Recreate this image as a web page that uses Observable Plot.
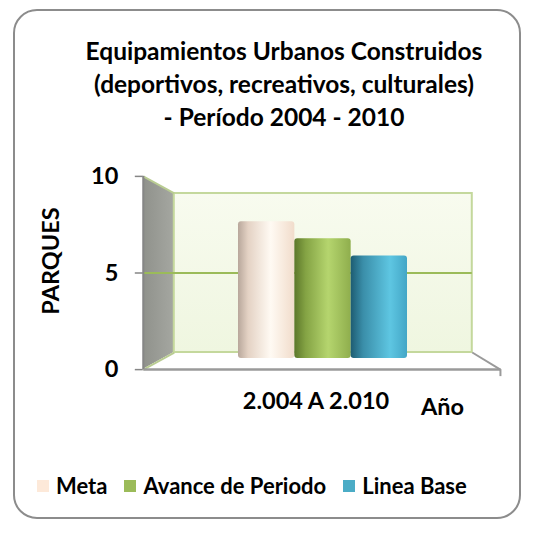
<!DOCTYPE html>
<html>
<head>
<meta charset="utf-8">
<script src="https://cdn.jsdelivr.net/npm/d3@7"></script>
<script src="https://cdn.jsdelivr.net/npm/@observablehq/plot@0.6"></script>
<style>
  body { margin: 0; background: #fff; }
  #wrap { position: relative; width: 534px; height: 533px; background: #fff; font-family: Lato, "Open Sans", sans-serif; overflow: hidden; }
  #frame { position: absolute; left: 13px; top: 9px; width: 508px; height: 510px; box-sizing: border-box; border: 2px solid #8c8c8c; border-radius: 24px; }
  #title { position: absolute; left: 34px; width: 500px; top: 34px; text-align: center; font-weight: bold; font-size: 24.5px; line-height: 33px; color: #000; }
  #chart { position: absolute; left: 0; top: 0; }
  #legend { position: absolute; left: 37px; top: 472px; display: flex; align-items: center; font-weight: bold; font-size: 22px; color: #000; }
  .item { display: flex; align-items: center; margin-right: 17px; }
  .sw { width: 12px; height: 12px; margin-right: 7px; }
</style>
</head>
<body>
<div id="wrap">
  <div id="frame"></div>
  <div id="title"></div>
  <div id="chart"></div>
  <div id="legend"></div>
</div>
<script>
// ---- data ----
const titleLines = ["Equipamientos Urbanos Construidos", "(deportivos, recreativos, culturales)", "- Período 2004 - 2010"];
const series = ["Meta", "Avance de Periodo", "Linea Base"];
const values = [8, 7, 6];
const categories = ["2.004 A 2.010"];
const yTicks = [0, 5, 10];
const yTitle = "PARQUES";
const xTitle = "Año";
const legendColors = ["#fde9d9", "#9bbb59", "#4bacc6"];
const cylinderStops = [
  [["0", "#b8a79b"], ["0.18", "#e4d2c4"], ["0.58", "#fffaf3"], ["1", "#f1dccb"]],
  [["0", "#5c772a"], ["0.2", "#84a344"], ["0.6", "#b5d56e"], ["1", "#8fae4d"]],
  [["0", "#1d5c72"], ["0.22", "#3a8ea9"], ["0.7", "#5ec6e2"], ["1", "#43a6c6"]]
];

// ---- 3D frame layout (perspective of the front and back planes) ----
const DEPTH = {
  front: { k: 1.13, x: [-1.69, 4.65] },
  back: { k: 0.93, x: [-1.14, 4.15] }
};
const vc = (yTicks[0] + yTicks[yTicks.length - 1]) / 2;
const py = (v, d) => vc + (v - vc) * DEPTH[d].k;
const [fl, fr] = DEPTH.front.x;
const [bl, br] = DEPTH.back.x;
const y0 = yTicks[0], yN = yTicks[yTicks.length - 1];

// title
document.getElementById("title").innerHTML = titleLines.map(t => `<div>${t}</div>`).join("");
// legend
document.getElementById("legend").innerHTML = series.map((s, i) =>
  `<div class="item"><div class="sw" style="background:${legendColors[i]}"></div><span>${s}</span></div>`).join("");

const bars = series.map((s, i) => ({ s, i, v: values[i] }));
const font = { fontFamily: "Lato, 'Open Sans', sans-serif", fontWeight: "bold", fill: "#000" };

const svg = Plot.plot({
  width: 534,
  height: 533,
  marginLeft: 238,
  marginRight: 127,
  marginTop: 187,
  marginBottom: 175,
  style: { background: "transparent", overflow: "visible" },
  x: { domain: [0, series.length], axis: null },
  y: { domain: [y0, yN], axis: null },
  color: { domain: series, range: series.map((s, i) => `url(#cyl${i})`) },
  marks: [
    // left side wall
    Plot.areaY([
      { x: fl, y1: py(y0, "front"), y2: py(yN, "front") },
      { x: bl, y1: py(y0, "back"), y2: py(yN, "back") }
    ], { x: "x", y1: "y1", y2: "y2", fill: "url(#wallGray)" }),
    // floor
    Plot.areaX([
      { y: py(y0, "back"), x1: bl, x2: br },
      { y: py(y0, "front"), x1: fl, x2: fr }
    ], { y: "y", x1: "x1", x2: "x2", fill: "#ffffff" }),
    // back wall
    Plot.rect([{ x1: bl, x2: br, y1: py(y0, "back"), y2: py(yN, "back") }],
      { x1: "x1", x2: "x2", y1: "y1", y2: "y2", fill: "url(#wallGreen)", stroke: "#c4d89c", strokeWidth: 2 }),
    // interior gridlines
    Plot.ruleY(yTicks.filter(t => t > y0 && t < yN), { y: t => py(t, "back"), x1: () => fl, x2: () => br, stroke: "#9bbb59", strokeWidth: 2 }),
    // side wall top / bottom edges
    Plot.link([y0, yN], { x1: () => fl, y1: t => py(t, "front"), x2: () => bl, y2: t => py(t, "back"), stroke: "#b9cc92", strokeWidth: 2 }),
    // floor right edge + front edge
    Plot.link([y0], { x1: () => br, y1: t => py(t, "back"), x2: () => fr, y2: t => py(t, "front"), stroke: "#9a9a9a", strokeWidth: 2 }),
    Plot.link([y0], { x1: () => fl, y1: t => py(t, "front"), x2: () => fr, y2: t => py(t, "front"), stroke: "#9a9a9a", strokeWidth: 2.5 }),
    Plot.ruleX([fr], { y1: () => py(y0, "front"), y2: () => py(y0, "front"), insetBottom: -7, stroke: "#9a9a9a", strokeWidth: 2 }),
    // y axis line and ticks
    Plot.ruleX([fl], { y1: () => py(y0, "front"), y2: () => py(yN, "front"), stroke: "#868686", strokeWidth: 2 }),
    Plot.ruleY(yTicks, { y: t => py(t, "front"), x1: () => fl, x2: () => fl, insetLeft: -8, stroke: "#868686", strokeWidth: 1.5 }),
    // cylinders
    Plot.rect(bars, { x1: "i", x2: d => d.i + 1, y1: () => y0, y2: "v", fill: "s", rx: 3 }),
    // tick labels
    Plot.text(yTicks, { x: () => fl, y: t => py(t, "front"), text: t => String(t), textAnchor: "end", dx: -25, fontSize: 23.5, ...font }),
    // category label
    Plot.text(categories, { x: () => series.length / 2, y: () => py(y0, "front"), text: d => d, dx: -7, dy: 32, fontSize: 23.5, ...font }),
    // axis titles
    Plot.text([xTitle], { x: () => fr, y: () => py(y0, "front"), text: d => d, dx: -58, dy: 38, fontSize: 23.5, ...font }),
    Plot.text([yTitle], { x: () => fl, y: () => vc, text: d => d, rotate: -90, dx: -92, dy: -12, fontSize: 23.5, ...font })
  ]
});

const ns = "http://www.w3.org/2000/svg";
const defs = document.createElementNS(ns, "defs");
defs.innerHTML =
  cylinderStops.map((stops, i) =>
    `<linearGradient id="cyl${i}" x1="0" x2="1" y1="0" y2="0">` +
    stops.map(([o, c]) => `<stop offset="${o}" stop-color="${c}"/>`).join("") +
    `</linearGradient>`).join("") +
  `<linearGradient id="wallGray" x1="0" x2="1" y1="0" y2="0"><stop offset="0" stop-color="#8f918b"/><stop offset="1" stop-color="#a5a7a1"/></linearGradient>` +
  `<linearGradient id="wallGreen" x1="0" x2="0" y1="0" y2="1"><stop offset="0" stop-color="#f8fbef"/><stop offset="1" stop-color="#eff6e0"/></linearGradient>`;
svg.insertBefore(defs, svg.firstChild);
document.getElementById("chart").appendChild(svg);
</script>
</body>
</html>
